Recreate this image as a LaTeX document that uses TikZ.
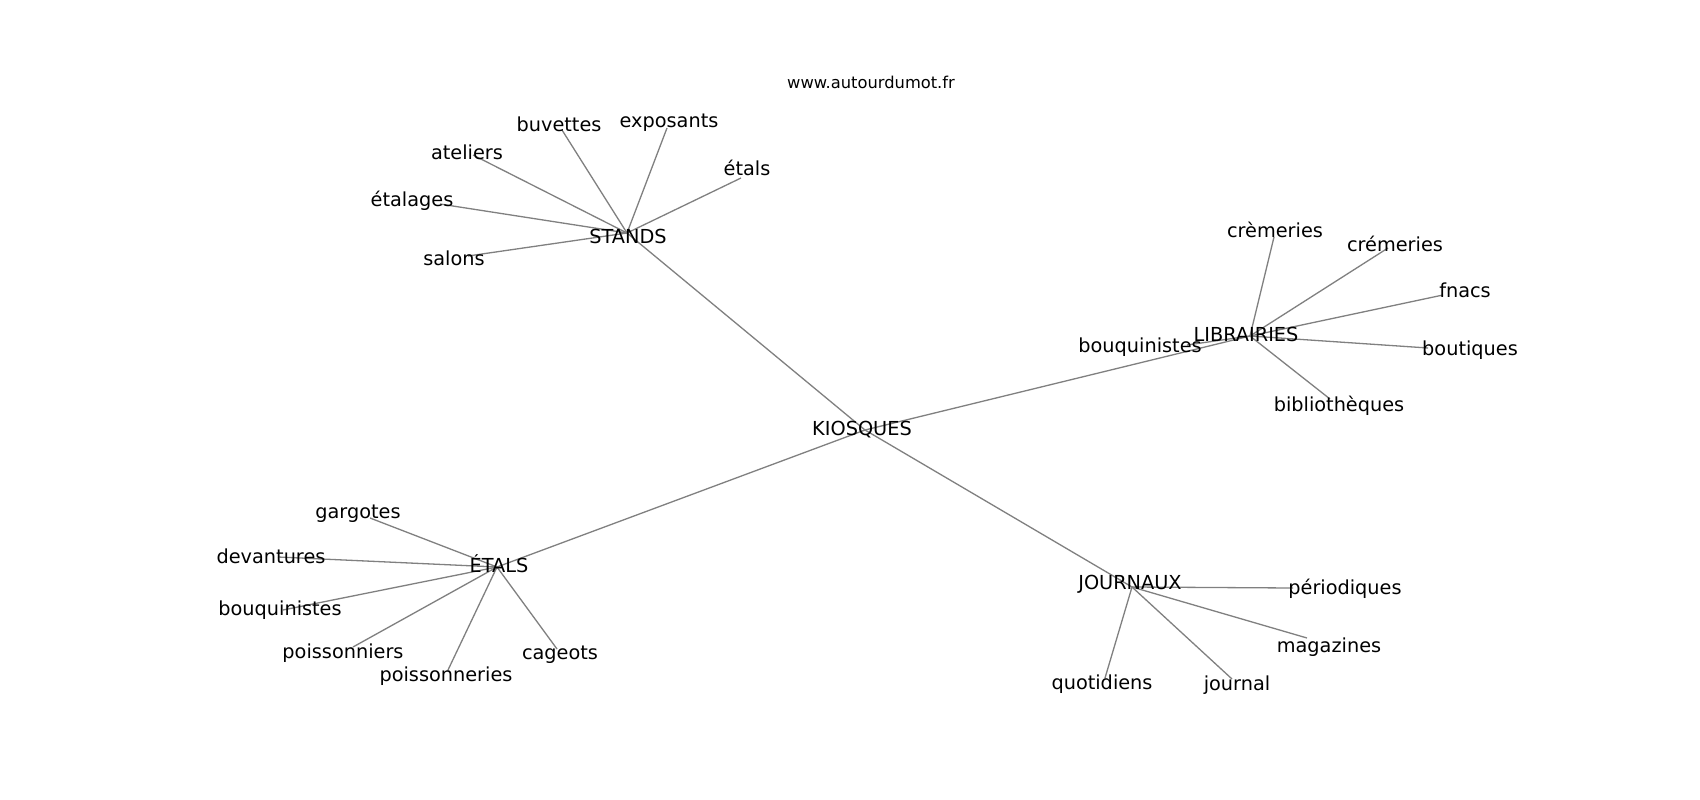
\documentclass[tikz,border=0pt]{standalone}
\usepackage{fontspec}
\setmainfont{DejaVu Sans}
\begin{document}
\begin{tikzpicture}[x=1pt,y=-1pt,
  lbl/.style={inner sep=0pt,anchor=center,font=\fontsize{19.3}{19}\selectfont},
  ttl/.style={inner sep=0pt,anchor=center,font=\fontsize{16.3}{16}\selectfont},
  edge/.style={draw=black!50,line width=1.3pt}]
\useasboundingbox[fill=white] (0,0) rectangle (1700,800);
% hub / end coordinates
\coordinate (hKIO) at (865,430);
\coordinate (hSTA) at (627,233);
\coordinate (hLIB) at (1250,336);
\coordinate (hETA) at (497,567);
\coordinate (hJOU) at (1132,587);
% STANDS leaves
\coordinate (hbuv) at (562,130);
\coordinate (hexp) at (667,128);
\coordinate (hate) at (473,155);
\coordinate (hetg) at (440,204);
\coordinate (hsal) at (468,256);
\coordinate (hetl) at (741,178);
% LIBRAIRIES leaves
\coordinate (hbql) at (1187,345);
\coordinate (hcre) at (1274,237);
\coordinate (hcrm) at (1388,248);
\coordinate (hfna) at (1443,295);
\coordinate (hbou) at (1428,348);
\coordinate (hbib) at (1330,399);
% ETALS leaves
\coordinate (hgar) at (370,518);
\coordinate (hdev) at (278,557);
\coordinate (hbqe) at (283,610);
\coordinate (hpsn) at (353,647);
\coordinate (hpsr) at (448,670);
\coordinate (hcag) at (557,649);
% JOURNAUX leaves
\coordinate (hper) at (1293,588);
\coordinate (hmag) at (1307,638);
\coordinate (hjnl) at (1232,679);
\coordinate (hquo) at (1105,678);
% edges
\foreach \a/\b in {hKIO/hSTA,hKIO/hLIB,hKIO/hETA,hKIO/hJOU,
  hSTA/hbuv,hSTA/hexp,hSTA/hate,hSTA/hetg,hSTA/hsal,hSTA/hetl,
  hLIB/hbql,hLIB/hcre,hLIB/hcrm,hLIB/hfna,hLIB/hbou,hLIB/hbib,
  hETA/hgar,hETA/hdev,hETA/hbqe,hETA/hpsn,hETA/hpsr,hETA/hcag,
  hJOU/hper,hJOU/hmag,hJOU/hjnl,hJOU/hquo}
  \draw[edge] (\a) -- (\b);
% labels
\node[ttl] (title) at (871,82) {www.autourdumot.fr};
\node[lbl] (KIO) at (862,430) {KIOSQUES};
\node[lbl] (STA) at (628,236) {STANDS};
\node[lbl] (LIB) at (1246,334) {LIBRAIRIES};
\node[lbl] (ETA) at (499,564) {ÉTALS};
\node[lbl] (JOU) at (1130,584) {JOURNAUX};
\node[lbl] (buv) at (559,124) {buvettes};
\node[lbl] (exp) at (669,123) {exposants};
\node[lbl] (ate) at (467,152) {ateliers};
\node[lbl] (etg) at (412,201) {étalages};
\node[lbl] (sal) at (454,258) {salons};
\node[lbl] (etl) at (747,168) {étals};
\node[lbl] (bql) at (1140,347) {bouquinistes};
\node[lbl] (cre) at (1275,230) {crèmeries};
\node[lbl] (crm) at (1395,244) {crémeries};
\node[lbl] (fna) at (1465,290) {fnacs};
\node[lbl] (bou) at (1470,350) {boutiques};
\node[lbl] (bib) at (1339,406) {bibliothèques};
\node[lbl] (gar) at (358,514) {gargotes};
\node[lbl] (dev) at (271,556) {devantures};
\node[lbl] (bqe) at (280,610) {bouquinistes};
\node[lbl] (psn) at (343,653) {poissonniers};
\node[lbl] (psr) at (446,676) {poissonneries};
\node[lbl] (cag) at (560,655) {cageots};
\node[lbl] (per) at (1345,589) {périodiques};
\node[lbl] (mag) at (1329,647) {magazines};
\node[lbl] (jnl) at (1237,685) {journal};
\node[lbl] (quo) at (1102,684) {quotidiens};
\end{tikzpicture}
\end{document}
